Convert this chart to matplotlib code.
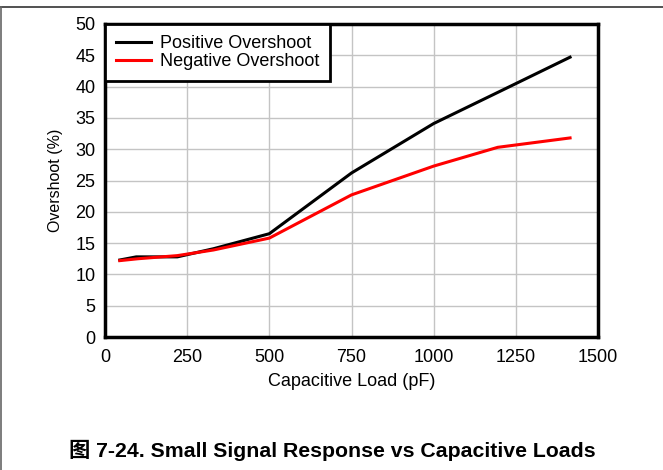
import matplotlib
matplotlib.use("Agg")
import matplotlib.pyplot as plt
from matplotlib.lines import Line2D

pos_x = [45, 95, 220, 330, 500, 750, 1000, 1200, 1415]
pos_y = [12.3, 12.8, 12.8, 14.1, 16.5, 26.2, 34.1, 39.2, 44.7]
neg_x = [45, 100, 220, 330, 500, 750, 1000, 1195, 1415]
neg_y = [12.2, 12.5, 13.0, 13.9, 15.8, 22.7, 27.3, 30.3, 31.8]
xticks = [0, 250, 500, 750, 1000, 1250, 1500]
yticks = [0, 5, 10, 15, 20, 25, 30, 35, 40, 45, 50]

plt.rcParams['font.family'] = ['Liberation Sans', 'Noto Sans CJK SC', 'DejaVu Sans']

W, H = 663, 470
fig = plt.figure(figsize=(W / 100, H / 100), dpi=100)
ax = fig.add_axes([105 / W, 1 - 337 / H, (598 - 105) / W, (337 - 24) / H])

ax.plot(pos_x, pos_y, color='black', lw=2.2, label='Positive Overshoot', zorder=3)
ax.plot(neg_x, neg_y, color='#ff0000', lw=2.2, label='Negative Overshoot', zorder=4)

ax.set_xlim(0, 1500)
ax.set_ylim(0, 50)
ax.set_xticks(xticks)
ax.set_yticks(yticks)
ax.tick_params(axis='x', length=0, labelsize=13, pad=9)
ax.tick_params(axis='y', length=0, labelsize=13, pad=7)
ax.grid(True, color='#c4c4c4', lw=1)
for s in ax.spines.values():
    s.set_linewidth(2.5)
    s.set_color('black')
ax.set_xlabel('Capacitive Load (pF)', fontsize=13, labelpad=5)
ax.set_ylabel('Overshoot (%)', fontsize=11.5, labelpad=9)

leg = ax.legend(loc='upper left', fontsize=13, frameon=True, fancybox=False,
                borderaxespad=0, handlelength=1.9, borderpad=0.62,
                labelspacing=0.05, handletextpad=0.5)
leg.get_frame().set_edgecolor('black')
leg.get_frame().set_linewidth(2)
leg.get_frame().set_alpha(1)

fig.text(332 / W, 1 - 450 / H, '图 7-24. Small Signal Response vs Capacitive Loads',
         ha='center', va='center', fontsize=15.3, fontweight='bold')

fig.add_artist(Line2D([0, 1], [1 - 7 / H, 1 - 7 / H], transform=fig.transFigure,
                      color='#333333', lw=1.2))
fig.add_artist(Line2D([0.5 / W, 0.5 / W], [0, 1 - 7 / H], transform=fig.transFigure,
                      color='#666666', lw=1.2))

fig.savefig('out.png', dpi=100)
